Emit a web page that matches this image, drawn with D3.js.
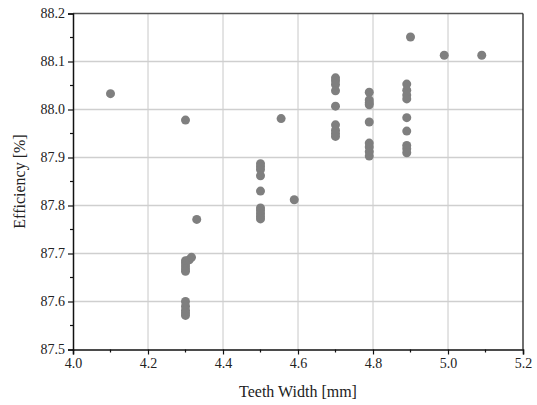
<!DOCTYPE html>
<html>
<head>
<meta charset="utf-8">
<script src="https://cdn.jsdelivr.net/npm/d3@7"></script>
<style>
  body { margin: 0; background: #fff; }
</style>
</head>
<body>
<div id="chart"></div>
<script>
// Teeth width [mm] vs efficiency [%]
const teethWidth = [
    4.10,
    4.30, 4.30, 4.30, 4.30, 4.30, 4.30,
    4.30, 4.30, 4.30, 4.30, 4.30,
    4.31, 4.316, 4.33,
    4.50, 4.50, 4.50, 4.50, 4.50, 4.50, 4.50, 4.50, 4.50, 4.50,
    4.555, 4.59,
    4.70, 4.70, 4.70, 4.70, 4.70, 4.70, 4.70, 4.70, 4.70,
    4.79, 4.79, 4.79, 4.79, 4.79, 4.79, 4.79, 4.79, 4.79,
    4.89, 4.89, 4.89, 4.89, 4.89, 4.89, 4.89, 4.89, 4.89,
    4.90, 4.99, 5.09
];
const efficiency = [
    88.033,
    87.978, 87.685, 87.680, 87.674, 87.668, 87.663,
    87.600, 87.590, 87.582, 87.576, 87.571,
    87.687, 87.692, 87.771,
    87.887, 87.881, 87.875, 87.862, 87.830, 87.795, 87.789, 87.783, 87.777, 87.772,
    87.981, 87.812,
    88.066, 88.060, 88.052, 88.039, 88.007, 87.968, 87.957, 87.950, 87.944,
    88.036, 88.020, 88.014, 88.010, 87.974, 87.930, 87.922, 87.912, 87.903,
    88.053, 88.040, 88.030, 88.022, 87.983, 87.955, 87.925, 87.918, 87.910,
    88.151, 88.113, 88.113
];
const xTicks = [4.0, 4.2, 4.4, 4.6, 4.8, 5.0, 5.2];
const yTicks = [87.5, 87.6, 87.7, 87.8, 87.9, 88.0, 88.1, 88.2];
const xMinor = [4.1, 4.3, 4.5, 4.7, 4.9, 5.1];
const yMinor = [87.55, 87.65, 87.75, 87.85, 87.95, 88.05, 88.15];

const points = teethWidth.map((w, i) => ({ w: w, e: efficiency[i] }));

const serif = '"Times New Roman", "Liberation Serif", "DejaVu Serif", serif';
const width = 537, height = 405;
const margin = { top: 13.5, right: 14, bottom: 55.5, left: 73 };

const svg = d3.select('#chart')
    .append('svg')
    .attr('width', width)
    .attr('height', height)
    .style('font-family', serif);

const x = d3.scaleLinear()
    .domain([4.0, 5.2])
    .range([margin.left, width - margin.right]);

const y = d3.scaleLinear()
    .domain([87.5, 88.2])
    .range([height - margin.bottom, margin.top]);

// Grid
svg.append('g')
    .selectAll('line')
    .data(xTicks.slice(1, -1))
    .join('line')
    .attr('x1', d => x(d)).attr('x2', d => x(d))
    .attr('y1', y(87.5)).attr('y2', y(88.2))
    .attr('stroke', '#c8c8c8')
    .attr('stroke-width', 1);

svg.append('g')
    .selectAll('line')
    .data(yTicks.slice(1, -1))
    .join('line')
    .attr('x1', x(4.0)).attr('x2', x(5.2))
    .attr('y1', d => y(d)).attr('y2', d => y(d))
    .attr('stroke', '#cfcfcf')
    .attr('stroke-width', 1.3);

// Frame top/right
svg.append('line')
    .attr('x1', x(4.0)).attr('x2', x(5.2))
    .attr('y1', y(88.2)).attr('y2', y(88.2))
    .attr('stroke', '#555').attr('stroke-width', 1.6);
svg.append('line')
    .attr('x1', x(5.2)).attr('x2', x(5.2))
    .attr('y1', y(88.2)).attr('y2', y(87.5))
    .attr('stroke', '#222').attr('stroke-width', 1.3);

// Axes
const xAxis = svg.append('g')
    .attr('transform', `translate(0,${y(87.5)})`)
    .call(d3.axisBottom(x).tickValues(xTicks).tickFormat(d3.format('.1f')).tickSize(5).tickPadding(4));
const yAxis = svg.append('g')
    .attr('transform', `translate(${x(4.0)},0)`)
    .call(d3.axisLeft(y).tickValues(yTicks).tickFormat(d3.format('.1f')).tickSize(5).tickPadding(3));

[xAxis, yAxis].forEach(g => {
    g.attr('font-family', serif).attr('font-size', 14);
    g.select('.domain').attr('stroke', '#111').attr('stroke-width', 1.5);
    g.selectAll('.tick line').attr('stroke', '#111').attr('stroke-width', 1.2);
    g.selectAll('.tick text').attr('fill', '#222');
});

// Minor ticks
svg.append('g')
    .selectAll('line')
    .data(xMinor)
    .join('line')
    .attr('x1', d => x(d)).attr('x2', d => x(d))
    .attr('y1', y(87.5)).attr('y2', y(87.5) + 3)
    .attr('stroke', '#111').attr('stroke-width', 1.2);
svg.append('g')
    .selectAll('line')
    .data(yMinor)
    .join('line')
    .attr('x1', x(4.0) - 3).attr('x2', x(4.0))
    .attr('y1', d => y(d)).attr('y2', d => y(d))
    .attr('stroke', '#111').attr('stroke-width', 1.2);

// Points
svg.append('g')
    .selectAll('circle')
    .data(points)
    .join('circle')
    .attr('cx', d => x(d.w))
    .attr('cy', d => y(d.e))
    .attr('r', 4.5)
    .attr('fill', '#7f7f7f');

// Axis titles
svg.append('text')
    .attr('x', (x(4.0) + x(5.2)) / 2)
    .attr('y', 397)
    .attr('text-anchor', 'middle')
    .attr('font-size', 16)
    .attr('fill', '#222')
    .text('Teeth Width [mm]');

svg.append('text')
    .attr('transform', `translate(25,${(y(87.5) + y(88.2)) / 2}) rotate(-90)`)
    .attr('text-anchor', 'middle')
    .attr('font-size', 16)
    .attr('fill', '#222')
    .text('Efficiency [%]');
</script>
</body>
</html>
